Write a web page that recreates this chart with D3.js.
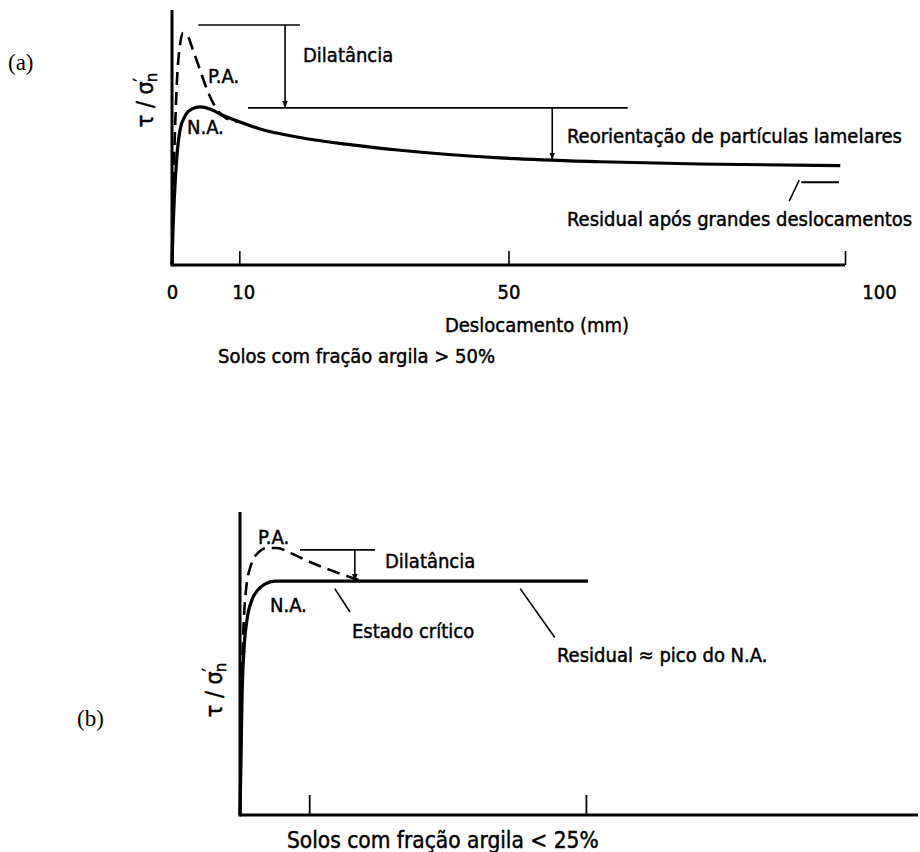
<!DOCTYPE html>
<html lang="pt">
<head>
<meta charset="utf-8">
<script src="https://cdn.jsdelivr.net/npm/d3@7"></script>
<style>
  body { margin: 0; background: #fff; }
  svg text { font-family: 'DejaVu Sans Condensed', 'DejaVu Sans', sans-serif; fill: #000; stroke: #000; stroke-width: 0.45px; }
  svg text.serif { font-family: 'Liberation Serif', 'Times New Roman', serif; stroke: none; }
  .ink { stroke: #000; fill: none; }
</style>
</head>
<body>
<svg id="fig" width="920" height="852"></svg>
<script>
// ---- data (a): solos com fração argila > 50%
const xTicksA = [0, 10, 50, 100]
const naA_x = [0, 0.15, 0.45, 0.74, 1.19, 1.93, 2.97, 4.16, 5.65, 7.43, 10.1, 13.1, 19.0, 26.4, 33.9, 48.7, 63.6, 78.4, 99.3]
const naA_y = [0, 0.137, 0.314, 0.431, 0.529, 0.584, 0.612, 0.620, 0.612, 0.588, 0.561, 0.533, 0.500, 0.472, 0.450, 0.420, 0.405, 0.396, 0.390]
const paA_x = [0, 0.15, 0.45, 0.74, 1.19, 1.63, 2.23, 3.12, 4.16, 5.35, 6.54, 8.02, 10.1]
const paA_y = [0, 0.255, 0.529, 0.725, 0.863, 0.910, 0.902, 0.843, 0.765, 0.678, 0.616, 0.576, 0.561]
// reference levels (a)
const dilatA = { top: 0.941, low: 0.616, curve: 0.413, residual: 0.325 }

// ---- data (b): solos com fração argila < 25%
const xTicksB = [10, 50]
const naB_x = [0, 0.145, 0.289, 0.578, 1.01, 1.73, 2.6, 3.61, 5.06, 50.3]
const naB_y = [0, 0.182, 0.380, 0.545, 0.644, 0.710, 0.743, 0.762, 0.772, 0.772]
const paB_x = [0, 0.145, 0.434, 0.867, 1.59, 2.6, 3.9, 5.35, 7.23, 10.1, 13.0, 15.9, 17.6]
const paB_y = [0, 0.314, 0.578, 0.743, 0.825, 0.865, 0.881, 0.881, 0.865, 0.835, 0.809, 0.785, 0.772]
const dilatB = { top: 0.875, low: 0.772 }

const zip = (xs, ys) => xs.map((x, i) => ({ x: x, y: ys[i] }))

let svg = d3.select("#fig")
svg.append("defs").append("marker")
    .attr("id", "arrow")
    .attr("viewBox", "0 0 10 10")
    .attr("refX", 10).attr("refY", 5)
    .attr("markerWidth", 7).attr("markerHeight", 9)
    .attr("markerUnits", "userSpaceOnUse")
    .attr("orient", "auto")
    .append("path").attr("d", "M0,1 L10,5 L0,9 Z").attr("fill", "#000")

function yLabel(g, x, y) {
    let t = g.append("text")
        .attr("transform", "translate(" + x + "," + y + ") rotate(-90)")
        .attr("text-anchor", "middle")
        .style("font-size", "23px")
    t.append("tspan").text("τ / σ")
    t.append("tspan").text("′").attr("dy", -7).style("font-size", "17px")
    t.append("tspan").text("n").attr("dy", 11).attr("dx", -4).style("font-size", "16px")
}

function label(g, txt, x, y, size) {
    return g.append("text").text(txt).attr("x", x).attr("y", y).style("font-size", (size || 20) + "px")
}

function seg(g, x1, y1, x2, y2, w) {
    return g.append("line").attr("class", "ink")
        .attr("x1", x1).attr("y1", y1).attr("x2", x2).attr("y2", y2)
        .attr("stroke-width", w || 1.6)
}

// ================= panel (a) =================
let ga = svg.append("g")
let xA = d3.scaleLinear().domain([0, 100]).range([172, 845])
let yA = d3.scaleLinear().domain([0, 1]).range([265, 10])

let line = (sx, sy) => d3.line().x(d => sx(d.x)).y(d => sy(d.y)).curve(d3.curveMonotoneX)

// axes
let axA = d3.axisBottom(xA).tickValues(xTicksA).tickSize(-14).tickPadding(20)
let axAg = ga.append("g").attr("transform", "translate(0," + yA(0) + ")").call(axA)
axAg.select(".domain").attr("stroke-width", 3).attr("d", "M" + xA(0) + ",0H" + xA(100))
axAg.selectAll(".tick line").attr("stroke-width", 1.6)
axAg.selectAll(".tick text").style("font-size", "20px").style("font-family", null)
    .attr("dx", d => d === 100 ? 34 : (d === 10 ? 4 : 0))
seg(ga, xA(0), yA(0) + 1.5, xA(0), yA(1), 3)

ga.append("path").datum(zip(paA_x, paA_y)).attr("class", "ink")
    .attr("stroke-width", 2.6).attr("stroke-dasharray", "13,7")
    .attr("d", line(xA, yA))
ga.append("path").datum(zip(naA_x, naA_y)).attr("class", "ink")
    .attr("stroke-width", 3.2).attr("d", line(xA, yA))

// dilatância
seg(ga, xA(3.9), yA(dilatA.top), xA(19), yA(dilatA.top))
seg(ga, xA(16.8), yA(dilatA.top), xA(16.8), yA(dilatA.low)).attr("marker-end", "url(#arrow)")
seg(ga, xA(11.3), yA(dilatA.low), xA(67.7), yA(dilatA.low))
label(ga, "Dilatância", 303, 62)
// reorientação
seg(ga, xA(56.5), yA(dilatA.low), xA(56.5), yA(dilatA.curve)).attr("marker-end", "url(#arrow)")
label(ga, "Reorientação de partículas lamelares", 567, 143)
// residual
seg(ga, xA(93.5), yA(dilatA.residual), xA(99.1), yA(dilatA.residual), 2)
seg(ga, xA(93.2), yA(dilatA.residual) - 2, xA(91.7), yA(0.25))
label(ga, "Residual após grandes deslocamentos", 567, 226)

label(ga, "P.A.", 208, 83)
label(ga, "N.A.", 187, 134)
label(ga, "Deslocamento (mm)", 537, 332).attr("text-anchor", "middle")
label(ga, "Solos com fração argila > 50%", 218, 363)
yLabel(ga, 153, 100)
ga.append("text").attr("class", "serif").text("(a)").attr("x", 8).attr("y", 70)
    .style("font-size", "23px")

// ================= panel (b) =================
let gb = svg.append("g")
let xB = d3.scaleLinear().domain([0, 98]).range([240, 918])
let yB = d3.scaleLinear().domain([0, 1]).range([815, 512])

let axB = d3.axisBottom(xB).tickValues(xTicksB).tickSize(-20).tickFormat("")
let axBg = gb.append("g").attr("transform", "translate(0," + yB(0) + ")").call(axB)
axBg.select(".domain").attr("stroke-width", 3).attr("d", "M" + xB(0) + ",0H" + xB(98))
axBg.selectAll(".tick line").attr("stroke-width", 1.8)
seg(gb, xB(0), yB(0) + 1.5, xB(0), yB(1), 3)

gb.append("path").datum(zip(paB_x, paB_y)).attr("class", "ink")
    .attr("stroke-width", 2.6).attr("stroke-dasharray", "13,7")
    .attr("d", line(xB, yB))
gb.append("path").datum(zip(naB_x, naB_y)).attr("class", "ink")
    .attr("stroke-width", 3.2).attr("d", line(xB, yB))

seg(gb, xB(8.67), yB(dilatB.top), xB(19.5), yB(dilatB.top))
seg(gb, xB(16.6), yB(dilatB.top), xB(16.6), yB(dilatB.low)).attr("marker-end", "url(#arrow)")
label(gb, "Dilatância", 385, 568)
label(gb, "P.A.", 258, 544)
label(gb, "N.A.", 270, 612)
seg(gb, xB(13.7), yB(0.747), xB(15.9), yB(0.67))
label(gb, "Estado crítico", 352, 638)
seg(gb, xB(40.5), yB(0.747), xB(45.5), yB(0.586))
label(gb, "Residual ≈ pico do N.A.", 557, 662)
label(gb, "Solos com fração argila < 25%", 287, 848, 22.5)
yLabel(gb, 222, 690)
gb.append("text").attr("class", "serif").text("(b)").attr("x", 77).attr("y", 726)
    .style("font-size", "23px")
</script>
</body>
</html>
